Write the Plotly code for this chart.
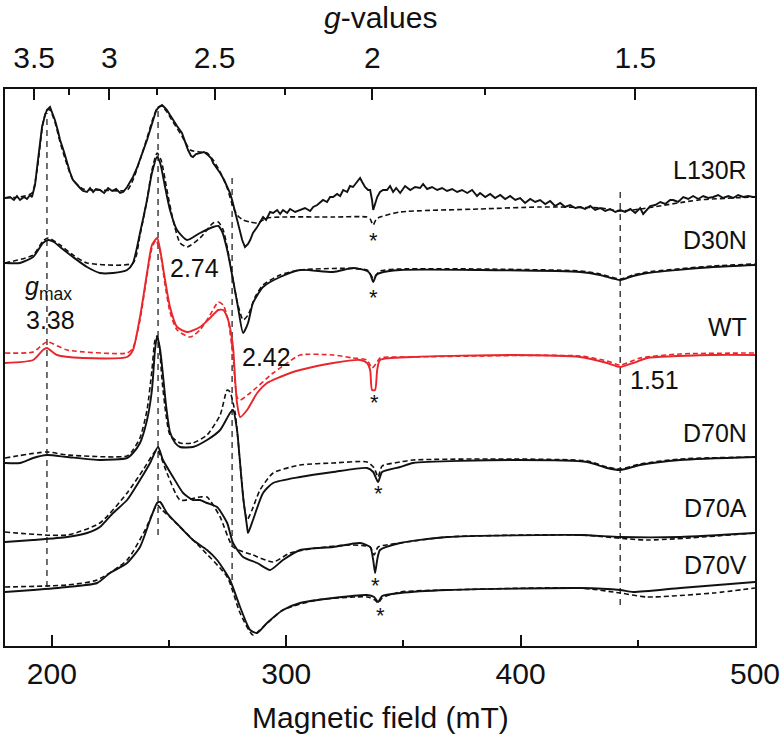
import plotly.graph_objects as go

# ---------------- data ----------------
MW_FREQ_GHZ = 9.426          # microwave frequency used for the g-value axis
G_FACTOR_CONST = 71.4477     # B(mT) = 71.4477 * nu(GHz) / g

g_major_ticks = [3.5, 3.0, 2.5, 2.0, 1.5]
g_major_text = ["3.5", "3", "2.5", "2", "1.5"]
g_minor_ticks = [3.25, 2.75, 2.25, 1.75]

field_major_ticks = [200, 300, 400, 500]
field_minor_ticks = [250, 350, 450]

# (field mT, intensity a.u., stacked)
L130R_exp = [(180,448),(182.1,449),(183.8,446),(185.1,450),(186.4,446),(188.1,449),(189.4,447),(190.7,451),(191.5,449),(192.8,461),(193.7,479),(194.9,501),(195.8,519),(197.1,531),(197.9,536),(199.2,539),(200.1,534),(201.3,526),(202.6,515),(203.5,506),(205.2,494),(206.5,483),(207.7,474),(209.0,466),(210.3,462),(212.0,458),(213.3,455),(215.0,454),(216.3,458),(217.6,454),(218.8,457),(220.5,456),(222.3,453),(224.0,458),(225.7,455),(227.4,457),(229.1,453),(230.4,454),(232.1,459),(233.4,464),(234.6,469),(236.3,478),(237.6,486),(239.3,496),(240.6,506),(241.9,516),(243.2,526),(244.4,535),(245.3,538),(246.2,540),(247.0,541),(248.3,538),(249.1,536),(250.4,531),(251.7,526),(253.4,520),(255.5,513),(256.8,504),(258.1,496),(259.4,490),(260.2,489),(261.5,492),(263.2,493),(264.9,494),(266.6,491),(267.9,488),(268.8,483),(270.5,478),(271.8,473),(273.5,466),(274.8,459),(276.0,453),(276.9,446),(278.2,434),(279.0,426),(280.3,414),(281.2,406),(282.4,399),(283.7,402),(284.6,406),(285.8,413),(287.6,419),(288.8,424),(290.1,429),(291.4,426),(293.1,434),(294.4,433),(296.1,436),(297.4,432),(298.6,436),(300.4,433),(301.6,437),(303.8,434),(305.9,436),(308.0,438),(310.2,435),(311.5,439),(313.2,441),(314.4,443),(315.7,446),(317.4,444),(318.7,449),(320.0,449),(321.7,452),(323.0,450),(324.3,456),(326.0,454),(327.2,460),(328.5,459),(329.8,463),(330.7,466),(331.5,468),(332.4,464),(333.6,459),(334.9,456),(335.8,456),(336.6,446),(337.1,436),(337.9,442),(338.8,449),(340.0,454),(341.3,456),(343.0,456),(344.3,460),(345.6,454),(346.9,458),(348.6,453),(350.7,460),(352.9,456),(355.0,459),(357.1,458),(358.4,462),(360.1,457),(362.2,459),(364.4,456),(366.5,458),(368.6,455),(370.8,457),(372.9,454),(375.0,456),(377.2,453),(379.3,456),(381.4,450),(382.7,453),(384.9,449),(387.0,452),(389.1,448),(391.3,451),(393.4,447),(395.5,450),(397.7,446),(399.8,448),(401.9,443),(404.1,447),(406.2,444),(408.3,446),(410.5,442),(412.6,445),(414.7,440),(416.9,443),(419.0,439),(421.1,441),(423.3,438),(425.4,439),(427.5,437),(429.7,440),(431.8,436),(433.9,438),(436.1,435),(438.2,437),(440.4,434),(442.5,436),(444.6,434),(446.8,437),(448.9,433),(451.0,438),(452.3,432),(454.0,436),(455.3,440),(457.4,441),(459.6,444),(461.7,442),(463.8,446),(465.1,446),(467.2,444),(469.4,449),(471.5,447),(473.6,450),(475.8,447),(477.9,450),(480.0,448),(482.2,449),(484.3,451),(486.4,448),(488.6,450),(490.7,448),(492.8,451),(495.0,449),(497.1,450),(499.2,449),(500,449)]
L130R_sim = [(180,448),(186.4,449),(191.5,453),(193.7,476),(196.2,523),(197.9,536),(199.2,536),(201.3,524),(203.5,504),(206.5,481),(209.0,466),(213.3,457),(220.5,456),(232.1,456),(234.6,466),(237.6,486),(240.6,508),(243.2,528),(245.3,539),(247.0,540),(249.1,534),(251.7,524),(255.5,510),(259.0,496),(263.2,494),(266.2,493),(268.8,486),(271.8,474),(274.8,458),(277.3,439),(279.4,430),(281.6,426),(284.6,424),(287.6,423),(291.8,428),(298.6,429),(320.0,429),(334.5,429),(335.8,427),(337.1,421),(338.4,427),(340.0,429),(348.6,434),(382.7,437),(408.3,439),(433.9,438),(442.5,435),(451.0,437),(476.0,446),(500,449)]

D30N_exp = [(180,383),(186.4,383),(192,389),(196.2,403),(198.4,406),(200.9,404),(203.5,399),(209.0,389),(215.0,379),(220.5,373),(226.1,373),(232.1,376),(234.6,383),(237.6,413),(240.6,446),(242.7,473),(244.9,489),(246.2,483),(248.3,459),(250.4,436),(253.4,416),(257.7,406),(263.2,413),(268.8,419),(271.0,420),(272.7,414),(274.8,396),(277.3,366),(279.4,339),(281.6,313),(283.7,323),(285.8,343),(290.1,359),(297.4,369),(305.9,376),(320.0,374),(328.5,378),(334.5,375),(335.8,372),(337.1,364),(338.4,371),(340.0,373),(348.6,376),(382.7,376),(425.4,374),(433.9,371),(442.5,366),(448.0,370),(454.0,373),(482.2,379),(500,381)]
D30N_sim = [(180,383),(192,391),(196.2,405),(198.4,408),(203.5,401),(209.0,391),(215.0,383),(234.6,383),(237.6,411),(240.6,446),(242.7,476),(244.9,493),(246.6,486),(249.1,456),(251.7,426),(254.7,403),(257.7,399),(263.2,408),(268.8,423),(271.0,424),(273.1,416),(275.2,394),(277.3,366),(279.4,341),(281.6,326),(283.7,331),(286.7,349),(290.1,361),(297.4,371),(305.9,376),(334.5,376),(337.1,368),(340.0,375),(348.6,377),(382.7,377),(425.4,375),(433.9,372),(442.5,367),(448.0,371),(454.0,374),(482.2,380),(500,382)]

WT_exp = [(180,283),(192,286),(196.2,296),(197.9,298),(202.2,291),(213.3,288),(232.1,289),(234.6,296),(237.6,329),(240.6,373),(242.7,401),(244.9,408),(246.2,396),(248.3,366),(250.4,339),(253.4,319),(257.7,314),(263.2,319),(267.5,328),(271.0,336),(273.1,336),(275.2,326),(277.3,299),(278.2,266),(279.0,243),(280.3,229),(283.3,236),(287.6,253),(291.8,263),(297.4,269),(302.9,274),(305.9,276),(320.0,283),(331.5,286),(334.5,283),(335.8,276),(336.6,256),(337.9,256),(338.8,276),(340.0,286),(354.1,289),(396.8,291),(425.4,289),(436.9,283),(442.5,279),(448.0,283),(454.0,288),(482.2,291),(500,291)]
WT_sim = [(180,293),(192,294),(197.9,304),(206.5,296),(232.1,293),(234.6,298),(237.6,326),(240.6,371),(242.7,398),(244.4,406),(246.2,394),(248.3,361),(250.4,334),(253.4,316),(259.0,309),(263.2,316),(267.5,331),(271.0,344),(273.1,341),(275.2,326),(277.3,289),(279.0,249),(280.3,246),(284.6,253),(294.4,273),(300.4,283),(305.9,291),(320.0,291),(328.5,288),(334.5,286),(336.6,278),(338.8,284),(340.0,288),(354.1,289),(425.4,290),(436.9,285),(442.5,281),(451.0,288),(468.1,292),(500,293)]

D70N_exp = [(180,183),(186.4,183),(192,188),(197.9,191),(206.5,189),(220.5,186),(232.1,188),(234.6,193),(237.6,203),(240.6,226),(242.7,256),(244.0,296),(244.9,310),(246.2,296),(247.4,271),(248.7,241),(250.4,214),(252.6,203),(254.7,199),(260.2,199),(266.2,206),(271.8,216),(276.0,233),(277.3,236),(279.0,216),(280.3,183),(281.6,149),(283.3,119),(283.7,113),(285.8,126),(290.1,153),(294.4,163),(305.9,169),(320.0,174),(334.5,178),(337.1,174),(339.2,164),(340.9,174),(348.6,179),(354.1,183),(396.8,186),(428.4,184),(436.9,178),(442.5,176),(451.0,181),(468.1,186),(500,189)]
D70N_sim = [(180,188),(197.9,194),(206.5,191),(232.1,190),(234.6,196),(237.6,208),(240.6,236),(242.7,276),(244.0,306),(244.9,310),(245.8,301),(247.0,266),(248.7,231),(250.4,211),(254.7,203),(260.2,203),(266.2,211),(271.8,231),(274.8,256),(276.0,254),(278.2,233),(280.3,183),(282.0,141),(283.3,126),(285.4,136),(288.8,156),(294.4,173),(305.9,181),(320.0,183),(334.5,184),(337.5,178),(339.2,169),(340.9,180),(348.6,184),(354.1,186),(396.8,187),(428.4,185),(436.9,179),(442.5,177),(451.0,182),(468.1,187),(500,189)]

D70A_exp = [(180,104),(192,106),(206.5,109),(215.0,113),(220.5,119),(226.1,133),(232.1,146),(237.6,166),(241.9,183),(245.3,199),(247.4,186),(251.7,169),(256.0,153),(260.2,146),(263.2,146),(266.2,143),(270.5,139),(274.8,123),(277.3,103),(281.6,89),(287.6,83),(293.1,76),(298.6,86),(305.9,96),(320.0,99),(331.5,103),(335.8,99),(337.1,86),(337.9,73),(338.8,86),(340.0,96),(348.6,103),(368.6,109),(425.4,111),(442.5,109),(468.1,109),(500,113)]
D70A_sim = [(180,114),(206.5,111),(220.5,123),(232.1,153),(238.9,176),(244.9,196),(249.1,173),(254.7,146),(263.2,149),(266.2,149),(271.8,129),(277.3,99),(285.8,91),(294.4,84),(301.6,93),(313.2,98),(327.2,101),(335.8,99),(337.5,91),(339.2,99),(348.6,103),(368.6,109),(425.4,111),(454.0,106),(500,113)]

D70V_exp = [(180,54),(192,56),(206.5,59),(219.3,63),(224.8,73),(232.1,83),(237.6,99),(241.9,126),(244.9,143),(246.2,144),(249.1,133),(254.7,119),(260.2,106),(266.2,96),(270.5,86),(276.0,66),(280.3,39),(284.6,16),(287.6,13),(291.8,23),(298.6,36),(305.9,43),(320.0,48),(334.5,51),(337.5,49),(339.2,44),(340.9,50),(348.6,53),(368.6,56),(425.4,58),(442.5,56),(448.0,54),(468.1,58),(500,64)]
D70V_sim = [(180,59),(206.5,61),(219.3,66),(232.1,86),(239.8,116),(244.9,141),(247.0,136),(251.7,126),(263.2,99),(274.8,69),(280.3,33),(285.8,11),(290.1,19),(298.6,36),(313.2,46),(334.5,49),(337.9,46),(339.2,43),(340.9,48),(348.6,54),(368.6,56),(425.4,58),(442.5,53),(454.0,49),(482.2,53),(500,58)]

sample_names = ["L130R", "D30N", "WT", "D70N", "D70A", "D70V"]
sample_label_y = [476, 406, 319, 213, 138, 81]
experimental = [L130R_exp, D30N_exp, WT_exp, D70N_exp, D70A_exp, D70V_exp]
simulated = [L130R_sim, D30N_sim, WT_sim, D70N_sim, D70A_sim, D70V_sim]
impurity_star_field = [337.1, 337.1, 337.5, 339.2, 337.9, 340.0]
impurity_star_y = [411, 354, 249, 158, 66, 36]

g_marker_values = ["3.38", "2.74", "2.42", "1.51"]
g_marker_fields = [197.9, 245.3, 276.9, 442.5]
g_marker_span = [(59, 533), (111, 538), (66, 470), (41, 458)]

# ---------------- styling ----------------
FONT = "Liberation Sans, Arial, sans-serif"
BLACK = "#111111"
RED = "#e8262c"

fig = go.Figure()

for name, exp, sim in zip(sample_names, experimental, simulated):
    color = RED if name == "WT" else BLACK
    xs, ys = zip(*sim)
    fig.add_trace(go.Scatter(x=xs, y=ys, mode="lines",
                             line=dict(color=color, width=1.6, dash="5px,3px",
                                       shape="spline", smoothing=0.6),
                             showlegend=False, hoverinfo="skip"))
    xe, ye = zip(*exp)
    fig.add_trace(go.Scatter(x=xe, y=ye, mode="lines",
                             line=dict(color=color, width=1.9,
                                       shape="linear" if name == "L130R" else "spline",
                                       smoothing=0.6),
                             showlegend=False, hoverinfo="skip"))

# dummy trace to activate the top (g-value) axis
fig.add_trace(go.Scatter(x=[None], y=[None], xaxis="x2", showlegend=False, hoverinfo="skip"))

shapes = []
for fld, (y0, y1) in zip(g_marker_fields, g_marker_span):
    shapes.append(dict(type="line", xref="x", yref="y", x0=fld, x1=fld, y0=y0, y1=y1,
                       line=dict(color="#333333", width=1.4, dash="6px,5px"), layer="below"))

annotations = []
for name, ly in zip(sample_names, sample_label_y):
    annotations.append(dict(x=497.5, y=ly, xref="x", yref="y", text=name, showarrow=False,
                            xanchor="right", yanchor="middle",
                            font=dict(family=FONT, size=25, color=BLACK)))
for sx, sy in zip(impurity_star_field, impurity_star_y):
    annotations.append(dict(x=sx, y=sy - 5, xref="x", yref="y", text="*", showarrow=False,
                            xanchor="center", yanchor="middle",
                            font=dict(family=FONT, size=22, color=BLACK)))

annotations += [
    dict(x=249.6, y=378, xref="x", yref="y", text="2.74", showarrow=False, xanchor="left",
         yanchor="middle", font=dict(family=FONT, size=25, color=BLACK)),
    dict(x=199.6, y=326, xref="x", yref="y", text="3.38", showarrow=False, xanchor="center",
         yanchor="middle", font=dict(family=FONT, size=25, color=BLACK)),
    dict(x=198.6, y=358, xref="x", yref="y", text="<i>g</i><sub>max</sub>", showarrow=False,
         xanchor="center", yanchor="middle", font=dict(family=FONT, size=25, color=BLACK)),
    dict(x=280.3, y=289, xref="x", yref="y", text="2.42", showarrow=False, xanchor="left",
         yanchor="middle", font=dict(family=FONT, size=25, color=BLACK)),
    dict(x=445.9, y=266, xref="x", yref="y", text="1.51", showarrow=False, xanchor="left",
         yanchor="middle", font=dict(family=FONT, size=25, color=BLACK)),
    dict(x=0.5, y=-0.129, xref="paper", yref="paper", text="Magnetic field (mT)",
         showarrow=False, xanchor="center", yanchor="middle",
         font=dict(family=FONT, size=30, color=BLACK)),
    dict(x=0.5, y=1.1275, xref="paper", yref="paper", text="<i>g</i>-values",
         showarrow=False, xanchor="center", yanchor="middle",
         font=dict(family=FONT, size=30, color=BLACK)),
]

conv = G_FACTOR_CONST * MW_FREQ_GHZ

fig.update_layout(
    width=784, height=745,
    margin=dict(l=5, r=29, t=89, b=99),
    paper_bgcolor="white", plot_bgcolor="white",
    font=dict(family=FONT, color=BLACK),
    showlegend=False,
    shapes=shapes,
    annotations=annotations,
    xaxis=dict(range=[180, 500], tickmode="array", tickvals=field_major_ticks,
               ticks="inside", ticklen=11, tickwidth=2, tickcolor=BLACK,
               minor=dict(tickmode="array", tickvals=field_minor_ticks, ticks="inside",
                          ticklen=6, tickwidth=2, tickcolor=BLACK),
               showline=True, linewidth=2, linecolor=BLACK, mirror=False,
               showgrid=False, zeroline=False, ticklabelstandoff=0,
               tickfont=dict(family=FONT, size=30, color=BLACK)),
    xaxis2=dict(range=[180, 500], overlaying="x", side="top", anchor="y",
                tickmode="array", tickvals=[conv / g for g in g_major_ticks],
                ticktext=g_major_text,
                ticks="inside", ticklen=11, tickwidth=2, tickcolor=BLACK,
                minor=dict(tickmode="array", tickvals=[conv / g for g in g_minor_ticks],
                           ticks="inside", ticklen=6, tickwidth=2, tickcolor=BLACK),
                showline=True, linewidth=2, linecolor=BLACK,
                showgrid=False, zeroline=False, ticklabelstandoff=7,
                tickfont=dict(family=FONT, size=30, color=BLACK)),
    yaxis=dict(range=[0, 557], showticklabels=False, ticks="", showline=True,
               linewidth=2, linecolor=BLACK, mirror=True, showgrid=False, zeroline=False),
)

fig.write_html("out.html", config={"displayModeBar": False},
               post_script="document.body.style.margin='0';")
